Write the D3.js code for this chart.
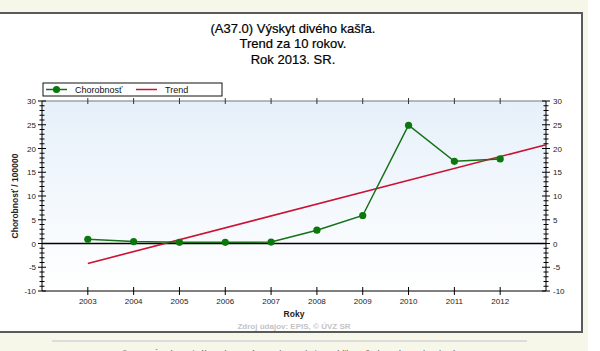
<!DOCTYPE html>
<html>
<head>
<meta charset="utf-8">
<script src="https://cdn.jsdelivr.net/npm/d3@7"></script>
<style>
  html, body { margin: 0; padding: 0; background: #fff; }
  svg { display: block; font-family: "Liberation Sans", Arial, sans-serif; }
</style>
</head>
<body>
<div id="chart"></div>
<script>
const years = [2003, 2004, 2005, 2006, 2007, 2008, 2009, 2010, 2011, 2012];
const morbidity = [0.9, 0.4, 0.25, 0.25, 0.3, 2.8, 5.9, 24.9, 17.3, 17.8];
// trend line end points
const trendYears = [2003, 2013];
const trendValues = [-4.2, 20.8];
const yTicks = [30, 25, 20, 15, 10, 5, 0, -5, -10];
const titleLines = ['(A37.0) Výskyt divého kašľa.', 'Trend za 10 rokov.', 'Rok 2013. SR.'];

const width = 600, height = 351;
const plot = { left: 42, right: 546, top: 101, bottom: 291 };

const svg = d3.select('#chart').append('svg').attr('width', width).attr('height', height);

// page background + panel
svg.append('rect').attr('x', 0).attr('y', 0).attr('width', 588).attr('height', height).attr('fill', '#f7f7e9');
svg.append('rect').attr('x', -2).attr('y', 13).attr('width', 584).attr('height', 319)
  .attr('fill', '#fff').attr('stroke', '#5a5a5a').attr('stroke-width', 2);
svg.append('line').attr('x1', 52).attr('x2', 527).attr('y1', 341).attr('y2', 341)
  .attr('stroke', '#dcdcdc').attr('stroke-width', 2);
svg.append('text').attr('x', 290).attr('y', 357).attr('text-anchor', 'middle')
  .attr('font-size', 9).attr('fill', '#555')
  .text('© 2006 Úrad verejného zdravotníctva Slovenskej republiky. Všetky práva vyhradené.');

const x = d3.scaleLinear().domain([2002, 2013]).range([plot.left, plot.right]);
const y = d3.scaleLinear().domain([-10, 30]).range([plot.bottom, plot.top]);

const defs = svg.append('defs');
const grad = defs.append('linearGradient').attr('id', 'bg').attr('x1', 0).attr('x2', 0).attr('y1', 0).attr('y2', 1);
grad.append('stop').attr('offset', '0%').attr('stop-color', '#e6f0fa');
grad.append('stop').attr('offset', '100%').attr('stop-color', '#ffffff');

svg.append('rect').attr('x', plot.left).attr('y', plot.top)
  .attr('width', plot.right - plot.left).attr('height', plot.bottom - plot.top)
  .attr('fill', 'url(#bg)');
svg.append('line').attr('x1', plot.left).attr('x2', plot.right).attr('y1', plot.top).attr('y2', plot.top)
  .attr('stroke', '#777');

// title
svg.append('g').selectAll('text').data(titleLines).enter().append('text')
  .attr('x', 293).attr('y', (d, i) => 32.5 + i * 15.5)
  .attr('text-anchor', 'middle').attr('font-size', 13).attr('fill', '#000')
  .attr('stroke', '#000').attr('stroke-width', 0.2)
  .text(d => d);

// axes
const minor = d3.range(-10, 31, 1);
const axisL = svg.append('g').attr('transform', `translate(${plot.left},0)`);
axisL.append('line').attr('y1', plot.top).attr('y2', plot.bottom).attr('stroke', '#000');
axisL.selectAll('.mn').data(minor).enter().append('line')
  .attr('x1', d => d % 5 === 0 ? -4 : -2.5).attr('x2', d => d % 5 === 0 ? 4 : 2.5)
  .attr('y1', d => y(d)).attr('y2', d => y(d)).attr('stroke', '#000');
axisL.selectAll('text').data(yTicks).enter().append('text')
  .attr('x', -6).attr('y', d => y(d) + 3).attr('text-anchor', 'end')
  .attr('font-size', 8).attr('fill', '#222').text(d => d);

const axisR = svg.append('g').attr('transform', `translate(${plot.right},0)`);
axisR.append('line').attr('y1', plot.top).attr('y2', plot.bottom).attr('stroke', '#000');
axisR.selectAll('.mn').data(minor).enter().append('line')
  .attr('x1', d => d % 5 === 0 ? -4 : -2.5).attr('x2', d => d % 5 === 0 ? 4 : 2.5)
  .attr('y1', d => y(d)).attr('y2', d => y(d)).attr('stroke', '#000');
axisR.selectAll('text').data(yTicks).enter().append('text')
  .attr('x', 7).attr('y', d => y(d) + 3).attr('text-anchor', 'start')
  .attr('font-size', 8).attr('fill', '#222').text(d => d);

const axisB = svg.append('g').attr('transform', `translate(0,${plot.bottom})`);
axisB.append('line').attr('x1', plot.left).attr('x2', plot.right).attr('stroke', '#000');
axisB.selectAll('line.t').data(years).enter().append('line').attr('class', 't')
  .attr('x1', d => x(d)).attr('x2', d => x(d)).attr('y1', -4).attr('y2', 4).attr('stroke', '#000');
axisB.selectAll('text').data(years).enter().append('text')
  .attr('x', d => x(d)).attr('y', 13).attr('text-anchor', 'middle')
  .attr('font-size', 8).attr('fill', '#222').text(d => d);

svg.append('g').selectAll('line').data(years).enter().append('line')
  .attr('x1', d => x(d)).attr('x2', d => x(d)).attr('y1', plot.top - 3).attr('y2', plot.top + 3)
  .attr('stroke', '#333');

// zero line
svg.append('line').attr('x1', plot.left).attr('x2', plot.right).attr('y1', y(0)).attr('y2', y(0))
  .attr('stroke', '#000').attr('stroke-width', 1.3);

// axis titles
svg.append('text').attr('transform', `translate(18,${(plot.top + plot.bottom) / 2}) rotate(-90)`)
  .attr('text-anchor', 'middle').attr('font-size', 8.5).attr('font-weight', 'bold').attr('fill', '#222')
  .text('Chorobnosť / 100000');
svg.append('text').attr('x', x(2007.5)).attr('y', 317).attr('text-anchor', 'middle')
  .attr('font-size', 8.5).attr('font-weight', 'bold').attr('fill', '#222').text('Roky');
svg.append('text').attr('x', x(2007.5)).attr('y', 329).attr('text-anchor', 'middle')
  .attr('font-size', 8).attr('font-weight', 'bold').attr('fill', '#c4c4c4').text('Zdroj údajov: EPIS, © ÚVZ SR');

// trend
const trend = trendYears.map((yr, i) => ({ yr, v: trendValues[i] }));
svg.append('path').datum(trend)
  .attr('d', d3.line().x(d => x(d.yr)).y(d => y(d.v)))
  .attr('fill', 'none').attr('stroke', '#cc1133').attr('stroke-width', 1.6);

// morbidity series
const series = years.map((yr, i) => ({ yr, v: morbidity[i] }));
svg.append('path').datum(series)
  .attr('d', d3.line().x(d => x(d.yr)).y(d => y(d.v)))
  .attr('fill', 'none').attr('stroke', '#167016').attr('stroke-width', 1.5);
svg.append('g').selectAll('circle').data(series).enter().append('circle')
  .attr('cx', d => x(d.yr)).attr('cy', d => y(d.v)).attr('r', 3.6).attr('fill', '#0c780c');

// legend
const lg = svg.append('g');
lg.append('rect').attr('x', 43).attr('y', 83).attr('width', 179).attr('height', 13)
  .attr('fill', '#fff').attr('stroke', '#111');
lg.append('line').attr('x1', 46).attr('x2', 67).attr('y1', 89.5).attr('y2', 89.5).attr('stroke', '#167016').attr('stroke-width', 1.5);
lg.append('circle').attr('cx', 56.5).attr('cy', 89.5).attr('r', 3.6).attr('fill', '#0c780c');
lg.append('text').attr('x', 75).attr('y', 93).attr('font-size', 9).attr('fill', '#111').text('Chorobnosť');
lg.append('line').attr('x1', 136).attr('x2', 157).attr('y1', 89.5).attr('y2', 89.5).attr('stroke', '#cc1133').attr('stroke-width', 1.5);
lg.append('text').attr('x', 165).attr('y', 93).attr('font-size', 9).attr('fill', '#111').text('Trend');
</script>
</body>
</html>
